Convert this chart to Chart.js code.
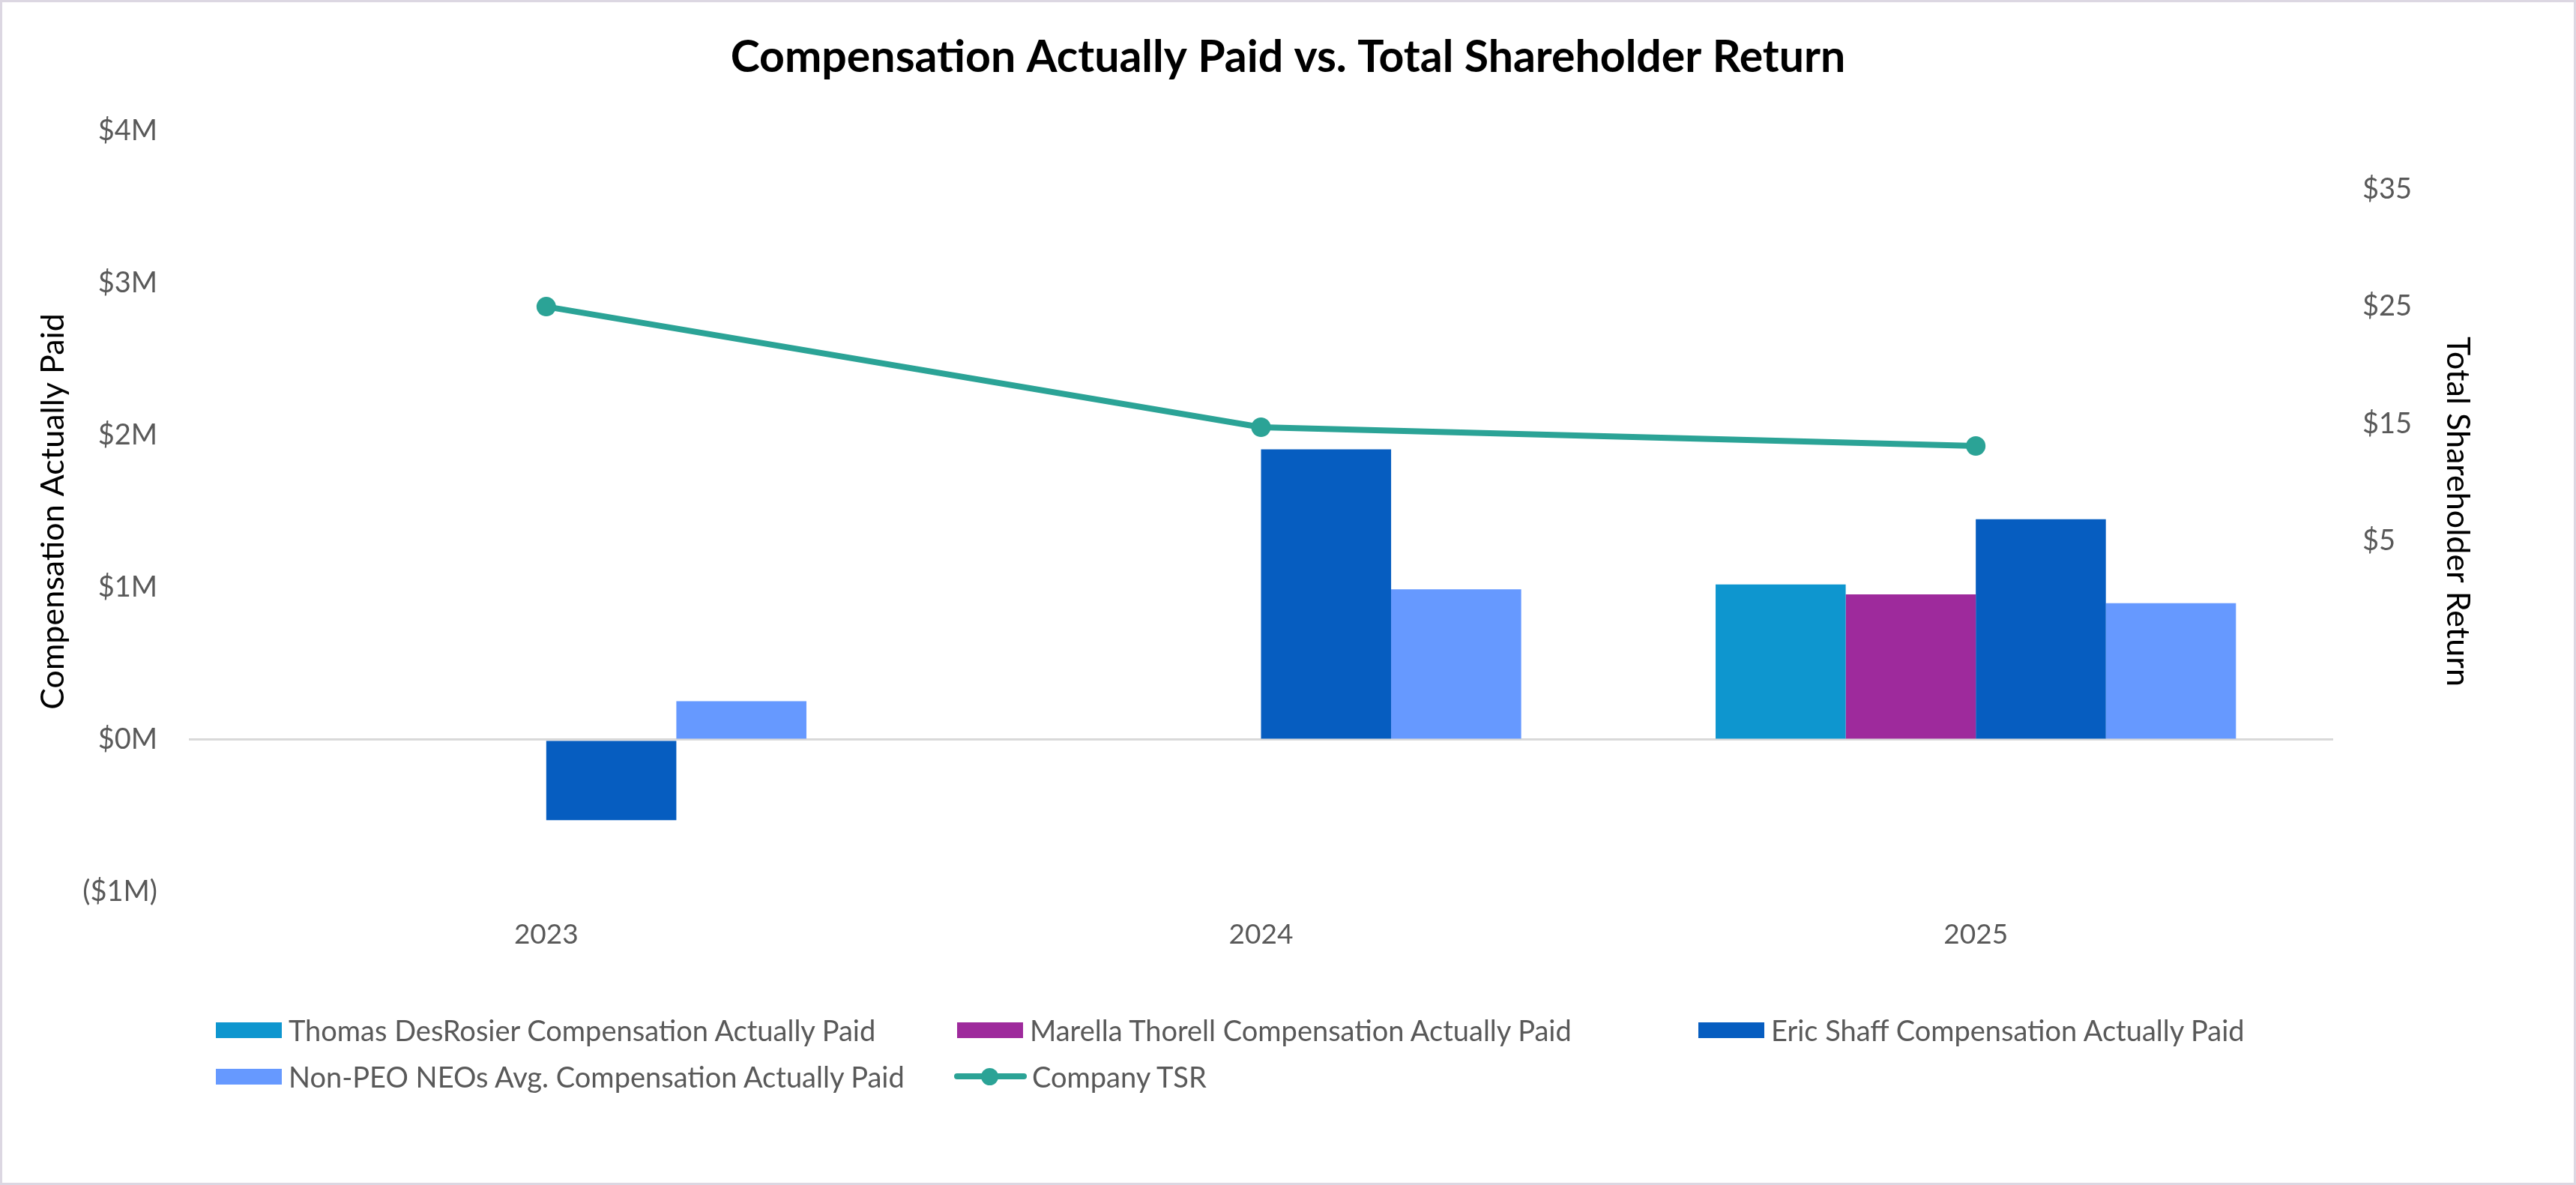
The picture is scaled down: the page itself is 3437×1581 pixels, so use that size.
<!DOCTYPE html>
<html>
<head>
<meta charset="utf-8">
<title>Compensation Actually Paid vs. Total Shareholder Return</title>
<script src="https://cdn.jsdelivr.net/npm/chart.js@4.4.1/dist/chart.umd.min.js"></script>
<style>
    body { margin: 0; background: #fff; font-family: Lato, 'Open Sans', sans-serif; }
    #wrap { position: relative; width: 3437px; height: 1581px; overflow: hidden; }
    #frame { position: absolute; inset: 0; border: 3px solid #dcd7e2; pointer-events: none; }
    #legend { position: absolute; left: 0; top: 0; width: 100%; height: 100%; pointer-events: none; }
    .item { position: absolute; display: flex; align-items: center; height: 50px; color: #595959; font-size: 38px; white-space: nowrap; }
    .swatch { width: 88px; height: 21px; margin-right: 9px; }
    .tsr-key { position: relative; width: 97px; height: 24px; margin-right: 7px; }
    .tsr-key .ln { position: absolute; left: 0; right: 0; top: 8px; height: 8px; border-radius: 4px; }
    .tsr-key .dot { position: absolute; left: 36px; top: 1px; width: 23px; height: 23px; border-radius: 50%; }
</style>
</head>
<body>
<div id="wrap">
    <canvas id="capChart" width="3437" height="1581"></canvas>
    <div id="legend"></div>
    <div id="frame"></div>
</div>
<script>
    const years = ['2023', '2024', '2025'];

    // compensation actually paid, dollars (null = not PEO that year)
    const desRosierCap = [null, null, 1020000];
    const thorellCap = [null, null, 955000];
    const shaffCap = [-528000, 1908000, 1449000];
    const nonPeoAvgCap = [253000, 988000, 897000];

    // company TSR, value of initial $100 investment shown on the right axis
    const companyTsr = [25, 14.7, 13.1];
    const tsrTickValues = [5, 15, 25, 35];

    const colors = {
        desRosier: '#0E96CF',
        thorell: '#9E2A9C',
        shaff: '#065DC0',
        nonPeo: '#6699FF',
        tsr: '#2BA396'
    };

    const textGray = '#595959';

    const barDefaults = {
        type: 'bar',
        yAxisID: 'y',
        borderWidth: 0,
        categoryPercentage: 0.728,
        barPercentage: 1.0,
        order: 1
    };

    const datasets = [
        { ...barDefaults, label: 'Thomas DesRosier Compensation Actually Paid', data: desRosierCap, backgroundColor: colors.desRosier },
        { ...barDefaults, label: 'Marella Thorell Compensation Actually Paid', data: thorellCap, backgroundColor: colors.thorell },
        { ...barDefaults, label: 'Eric Shaff Compensation Actually Paid', data: shaffCap, backgroundColor: colors.shaff },
        { ...barDefaults, label: 'Non-PEO NEOs Avg. Compensation Actually Paid', data: nonPeoAvgCap, backgroundColor: colors.nonPeo },
        {
            type: 'line',
            label: 'Company TSR',
            data: companyTsr,
            yAxisID: 'y1',
            borderColor: colors.tsr,
            backgroundColor: colors.tsr,
            borderWidth: 8,
            pointRadius: 13,
            pointHoverRadius: 13,
            pointBackgroundColor: colors.tsr,
            pointBorderWidth: 0,
            tension: 0,
            order: 0
        }
    ];

    function money(v) {
        const m = Math.abs(v) / 1000000;
        return v < 0 ? '($' + m + 'M)' : '$' + m + 'M';
    }

    const ctx = document.getElementById('capChart').getContext('2d');

    const chart = new Chart(ctx, {
        data: { labels: years, datasets: datasets },
        options: {
            responsive: false,
            animation: false,
            devicePixelRatio: 1,
            layout: { padding: 0 },
            plugins: {
                legend: { display: false },
                tooltip: { enabled: false },
                title: {
                    display: true,
                    text: 'Compensation Actually Paid vs. Total Shareholder Return',
                    color: '#000',
                    font: { family: 'Lato', size: 59, weight: 'bold' },
                    padding: { top: 42, bottom: 62 }
                }
            },
            scales: {
                x: {
                    grid: { display: false, drawTicks: false },
                    border: { display: false },
                    ticks: { color: textGray, font: { family: 'Lato', size: 37 }, padding: 35 },
                    afterFit: (scale) => { scale.height = 391; }
                },
                y: {
                    position: 'left',
                    min: -1000000,
                    max: 4000000,
                    ticks: {
                        stepSize: 1000000,
                        color: textGray,
                        font: { family: 'Lato', size: 38 },
                        padding: 42,
                        callback: (v) => money(v)
                    },
                    grid: {
                        drawTicks: false,
                        lineWidth: 3,
                        color: (c) => c.tick && c.tick.value === 0 ? '#d9d9d9' : 'rgba(0,0,0,0)'
                    },
                    border: { display: false },
                    title: {
                        display: true,
                        text: 'Compensation Actually Paid',
                        color: '#000',
                        font: { family: 'Lato', size: 43 },
                        padding: { top: 45, bottom: 0 }
                    },
                    afterFit: (scale) => { scale.width = 252; }
                },
                y1: {
                    position: 'right',
                    min: -25,
                    max: 40,
                    afterBuildTicks: (scale) => { scale.ticks = tsrTickValues.map(value => ({ value })); },
                    ticks: {
                        color: textGray,
                        font: { family: 'Lato', size: 38 },
                        padding: 39,
                        callback: (v) => '$' + v
                    },
                    grid: { display: false, drawTicks: false },
                    border: { display: false },
                    title: {
                        display: true,
                        text: 'Total Shareholder Return',
                        color: '#000',
                        font: { family: 'Lato', size: 43 },
                        padding: { top: 132, bottom: 0 }
                    },
                    afterFit: (scale) => { scale.width = 324; }
                }
            }
        }
    });

    // Legend laid out in Excel-style columns
    const legendEl = document.getElementById('legend');
    const legendSlots = [
        { left: 288, top: 1349 },
        { left: 1277, top: 1349 },
        { left: 2266, top: 1349 },
        { left: 288, top: 1411 },
        { left: 1273, top: 1411 }
    ];

    chart.data.datasets.forEach((ds, i) => {
        const item = document.createElement('div');
        item.className = 'item';
        item.style.left = legendSlots[i].left + 'px';
        item.style.top = legendSlots[i].top + 'px';
        if (ds.type === 'line') {
            item.innerHTML = `<div class="tsr-key"><div class="ln" style="background:${ds.borderColor}"></div><div class="dot" style="background:${ds.borderColor}"></div></div><span>${ds.label}</span>`;
        } else {
            item.innerHTML = `<div class="swatch" style="background:${ds.backgroundColor}"></div><span>${ds.label}</span>`;
        }
        legendEl.appendChild(item);
    });
</script>
</body>
</html>
